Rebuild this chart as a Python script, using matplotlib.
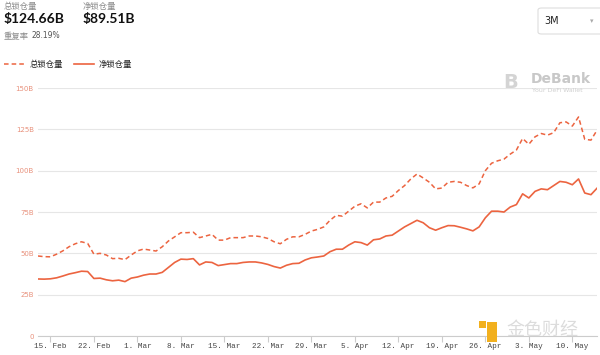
import matplotlib.pyplot as plt
import matplotlib.dates as mdates
from matplotlib.patches import FancyBboxPatch, Rectangle
import numpy as np
import pandas as pd

plt.rcParams['font.family'] = ['Noto Sans CJK SC', 'DejaVu Sans']

# data (billions USD), daily from 13 Feb to 14 May 2021
dates = pd.date_range('2021-02-13', '2021-05-14', freq='D')

total_tvl = [
    48.4, 48.0, 47.9, 49.5, 51.5, 54.0, 55.8, 57.0, 56.0, 49.5,
    50.0, 49.0, 46.8, 47.0, 46.2, 49.0, 51.5, 52.6, 52.0, 51.4,
    54.0, 57.5, 60.0, 62.5, 62.5, 62.8, 59.5, 60.5, 61.5, 58.0,
    58.0, 59.5, 59.5, 59.5, 60.5, 60.5, 60.0, 59.0, 57.0, 55.8,
    58.5, 60.0, 60.0, 61.5, 63.5, 64.5, 66.0, 70.0, 73.0, 72.5,
    75.5, 78.5, 80.0, 77.5, 81.0, 81.0, 83.5, 84.5, 88.0, 91.0,
    95.0, 98.0, 95.6, 93.0, 89.0, 89.5, 93.0, 93.5, 93.0, 91.0,
    89.6, 92.0, 100.0, 104.5, 106.0, 107.0, 110.0, 112.5, 119.5, 116.0,
    120.5, 122.5, 121.5, 123.0, 129.0, 129.5, 127.0, 132.5, 119.0, 118.5,
    124.66,
]

net_tvl = [
    34.5, 34.4, 34.6, 35.2, 36.3, 37.5, 38.3, 39.2, 39.0, 34.8,
    35.0, 34.0, 33.4, 33.8, 32.9, 35.0, 35.7, 36.8, 37.5, 37.5,
    38.5, 41.5, 44.5, 46.5, 46.3, 46.8, 43.0, 44.8, 44.5, 42.6,
    43.2, 43.8, 43.8, 44.5, 44.8, 44.8, 44.2, 43.3, 42.0, 41.1,
    42.8, 43.8, 44.0, 46.0, 47.3, 47.8, 48.4, 51.0, 52.5, 52.5,
    55.0, 57.0, 56.5, 55.0, 58.2, 58.7, 60.5, 61.0, 63.5, 66.0,
    68.0, 70.0, 68.5, 65.5, 64.0, 65.5, 66.8, 66.7, 65.8, 64.8,
    63.6, 66.0, 71.5, 75.5, 75.5, 75.0, 78.0, 79.5, 86.0, 83.5,
    87.5, 89.0, 88.5, 91.0, 93.5, 93.0, 91.5, 95.0, 86.5, 85.5,
    89.51,
]

y_ticks = [0, 25, 50, 75, 100, 125, 150]
y_labels = ['0', '25B', '50B', '75B', '100B', '125B', '150B']

line_color = '#EC6440'

fig = plt.figure(figsize=(6, 3.55), dpi=100)
ax = fig.add_axes([0.0633, 0.0535, 0.932, 0.6985])

ax.plot(dates, total_tvl, color=line_color, lw=1.1, ls=(0, (3, 2)))
ax.plot(dates, net_tvl, color=line_color, lw=1.2)

ax.set_xlim(dates[0], dates[-1])
ax.set_ylim(0, 150)
ax.set_yticks(y_ticks)
ax.set_yticklabels(y_labels)
ax.grid(axis='y', color='#e6e6e6', lw=0.8)
ax.set_axisbelow(True)
for side in ['top', 'right', 'left']:
    ax.spines[side].set_visible(False)
ax.spines['bottom'].set_color('#cccccc')
ax.spines['bottom'].set_linewidth(0.8)
ax.tick_params(axis='y', length=0, labelsize=5, labelcolor='#e8917c', pad=3)
ax.tick_params(axis='x', length=4, color='#cccccc', labelsize=5.5,
               labelcolor='#444444', pad=1)
ax.xaxis.set_major_locator(mdates.WeekdayLocator(byweekday=mdates.MO))
ax.xaxis.set_major_formatter(mdates.DateFormatter('%-d. %b'))
for lab in ax.get_xticklabels():
    lab.set_family('Liberation Mono')
for lab in ax.get_yticklabels():
    lab.set_family('DejaVu Sans')

# header
W, H = 600, 355
def fx(px):
    return px / W
def fy(py):
    return 1 - py / H

fig.text(fx(4), fy(6), '总锁仓量', fontsize=6, color='#8a8a8a', va='center')
fig.text(fx(4), fy(19), '$124.66B', fontsize=10, color='#111111',
         fontweight='bold', va='center', family='Lato')
fig.text(fx(83), fy(6), '净锁仓量', fontsize=6, color='#8a8a8a', va='center')
fig.text(fx(83), fy(19), '$89.51B', fontsize=10, color='#111111',
         fontweight='bold', va='center', family='Lato')
fig.text(fx(4), fy(36), '重复率', fontsize=6, color='#8a8a8a', va='center')
fig.text(fx(31), fy(36), '28.19%', fontsize=5.5, color='#555555', va='center',
         family='DejaVu Sans')

# legend
fig.add_artist(plt.Line2D([fx(4), fx(24)], [fy(64), fy(64)], color=line_color,
                          lw=1.1, ls=(0, (3, 2))))
fig.text(fx(30), fy(64), '总锁仓量', fontsize=6, color='#222222', va='center')
fig.add_artist(plt.Line2D([fx(74), fx(94)], [fy(64), fy(64)], color=line_color,
                          lw=1.2))
fig.text(fx(99), fy(64), '净锁仓量', fontsize=6, color='#222222', va='center')

# range selector
fig.add_artist(FancyBboxPatch((fx(538), fy(34)), fx(70), 26 / H,
                              boxstyle='round,pad=0,rounding_size=0.006',
                              transform=fig.transFigure, fc='white',
                              ec='#dddddd', lw=0.8))
fig.text(fx(544), fy(21), '3M', fontsize=7, color='#222222', va='center',
         family='DejaVu Sans')
fig.text(fx(590), fy(21), '▾', fontsize=5, color='#aaaaaa', va='center',
         family='DejaVu Sans')

# watermarks
fig.text(fx(503), fy(82), 'B', fontsize=14, color='#d4d4d4', va='center',
         fontweight='bold', family='DejaVu Sans')
fig.text(fx(531), fy(79), 'DeBank', fontsize=10, color='#c8c8c8', va='center',
         fontweight='bold', family='DejaVu Sans')
fig.text(fx(532), fy(91), 'Your DeFi Wallet', fontsize=4.5, color='#d0d0d0',
         va='center', family='DejaVu Sans')
fig.add_artist(Rectangle((fx(487), fy(342)), 10 / W, 20 / H,
                         transform=fig.transFigure, fc='#f2b01e', ec='none'))
fig.add_artist(Rectangle((fx(479), fy(328)), 7 / W, 7 / H,
                         transform=fig.transFigure, fc='#f2b01e', ec='none'))
fig.text(fx(506), fy(330), '金色财经', fontsize=13, color='#dcdcdc', va='center',
         zorder=0)

fig.savefig('out.png', dpi=100)
